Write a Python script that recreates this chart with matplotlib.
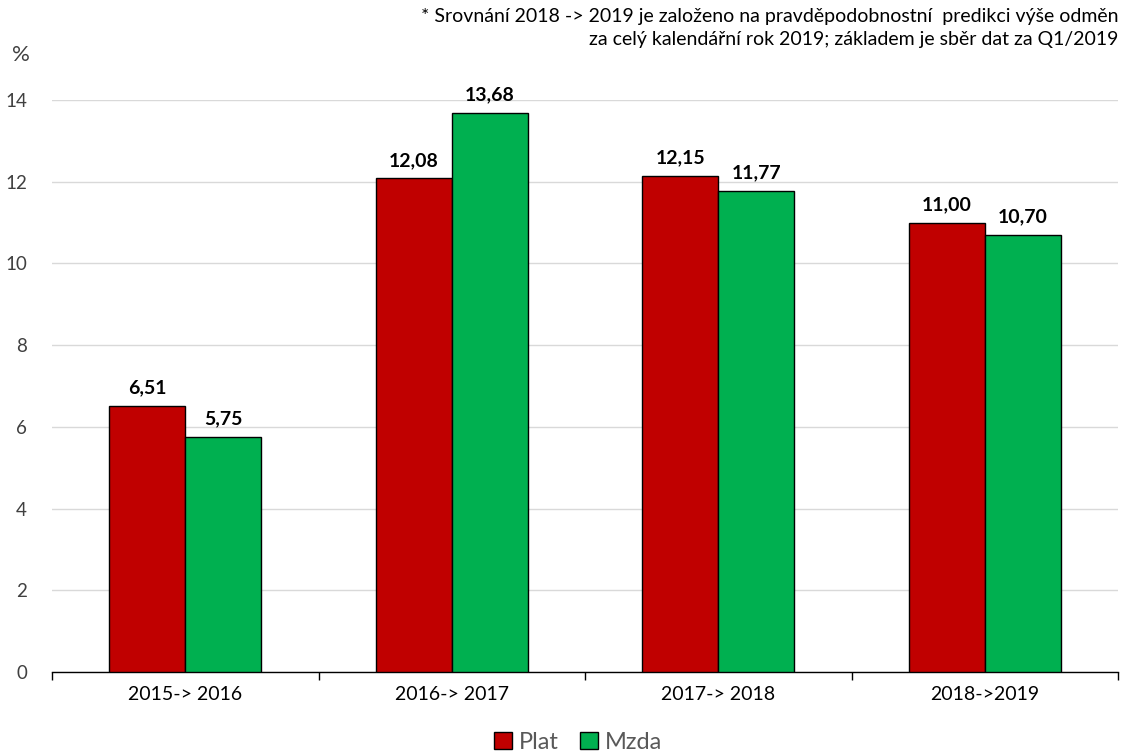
import matplotlib
matplotlib.use("Agg")
import matplotlib.pyplot as plt
import numpy as np
from matplotlib.patches import Patch

categories = ["2015-> 2016", "2016-> 2017", "2017-> 2018", "2018->2019"]
plat = [6.51, 12.08, 12.15, 11.00]
mzda = [5.75, 13.68, 11.77, 10.70]
yticks = [0, 2, 4, 6, 8, 10, 12, 14]
note = ("* Srovnání 2018 -> 2019 je založeno na pravděpodobnostní  predikci výše odměn\n"
        "za celý kalendářní rok 2019; základem je sběr dat za Q1/2019")

plt.rcParams['font.family'] = ['Lato', 'DejaVu Sans']

fig = plt.figure(figsize=(11.23, 7.55), dpi=100)
ax = fig.add_axes([0.0463, 0.1099, 0.9493, 0.7576])

x = np.arange(len(categories))
w = 0.285
red = "#C00000"
green = "#00B050"
b1 = ax.bar(x - w/2, plat, w, color=red, edgecolor="black", linewidth=1, zorder=3)
b2 = ax.bar(x + w/2, mzda, w, color=green, edgecolor="black", linewidth=1, zorder=3)

for bars, vals in ((b1, plat), (b2, mzda)):
    for r, v in zip(bars, vals):
        ax.annotate(f"{v:.2f}".replace(".", ","), (r.get_x() + r.get_width()/2, v),
                    xytext=(0, 7), textcoords="offset points", ha="center", va="bottom",
                    fontsize=14, fontweight="bold", color="black")

ax.set_xlim(-0.5, len(categories) - 0.5)
ax.set_ylim(0, 14)
ax.set_yticks(yticks)
ax.set_yticklabels([str(t) for t in yticks], fontsize=13.5, color="#404040")
ax.yaxis.grid(True, color="#d9d9d9", linewidth=1, zorder=0)
ax.set_axisbelow(True)
ax.tick_params(axis="y", length=0, pad=18)

ax.set_xticks(x)
ax.set_xticklabels(categories, fontsize=14, color="black")
ax.tick_params(axis="x", length=0, pad=10)
ax.set_xticks(np.arange(-0.5, len(categories)), minor=True)
ax.tick_params(axis="x", which="minor", length=6, width=1, color="black", direction="out")

for s in ("left", "right", "top"):
    ax.spines[s].set_visible(False)
ax.spines["bottom"].set_color("black")
ax.spines["bottom"].set_linewidth(1)

fig.text(0.011, 0.927, "%", fontsize=16, color="#404040", ha="left", va="center")
fig.text(0.996, 0.989, note, fontsize=14, color="black", ha="right", va="top", linespacing=1.4)

handles = [Patch(facecolor=red, edgecolor="black", label="Plat"),
           Patch(facecolor=green, edgecolor="black", label="Mzda")]
fig.legend(handles=handles, loc="lower center", bbox_to_anchor=(0.515, -0.025), ncol=2,
           frameon=False, fontsize=17, handlelength=0.75, handleheight=0.75,
           handletextpad=0.3, columnspacing=0.9, labelcolor="#595959")

fig.savefig("out.png", dpi=100)
